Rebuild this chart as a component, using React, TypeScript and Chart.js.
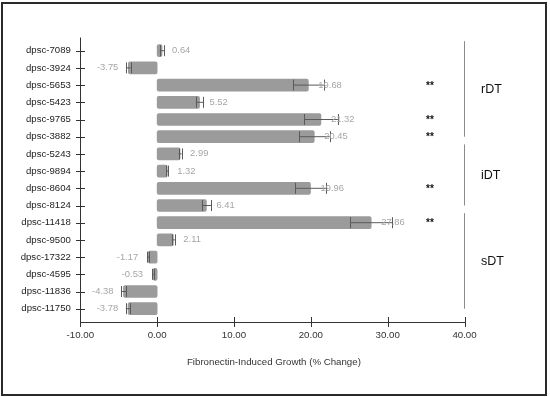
import React, { useEffect, useRef } from "react";
import { Chart, registerables } from "chart.js";

Chart.register(...registerables);

const samples = [
  "dpsc-7089", "dpsc-3924", "dpsc-5653", "dpsc-5423", "dpsc-9765", "dpsc-3882",
  "dpsc-5243", "dpsc-9894", "dpsc-8604", "dpsc-8124",
  "dpsc-11418", "dpsc-9500", "dpsc-17322", "dpsc-4595", "dpsc-11836", "dpsc-11750",
];
const growth = [0.64, -3.75, 19.68, 5.52, 21.32, 20.45, 2.99, 1.32, 19.96, 6.41, 27.86, 2.11, -1.17, -0.53, -4.38, -3.78];
const stdErr = [0.3, 0.3, 2.0, 0.5, 2.2, 2.0, 0.2, 0.15, 2.0, 0.6, 2.75, 0.2, 0.15, 0.1, 0.33, 0.3];
const significance = ["", "", "**", "", "**", "**", "", "", "**", "", "**", "", "", "", "", ""];
const groupNames = ["rDT", "iDT", "sDT"];
const groupFirst = ["dpsc-7089", "dpsc-5243", "dpsc-11418"];
const groupLast = ["dpsc-3882", "dpsc-8124", "dpsc-11750"];
const xTicks = [-10, 0, 10, 20, 30, 40];
const xTitle = "Fibronectin-Induced Growth (% Change)";

const FONT = "'Liberation Sans', Arial, sans-serif";

const overlayPlugin = {
  id: "overlay",
  afterDatasetsDraw(chart: any) {
    const ctx = chart.ctx;
    const xs = chart.scales.x;
    const ys = chart.scales.y;
    const area = chart.chartArea;
    ctx.save();

    // error bars
    ctx.strokeStyle = "#5a5a5a";
    ctx.lineWidth = 1;
    growth.forEach((v, i) => {
      const y = ys.getPixelForTick(i);
      const x1 = xs.getPixelForValue(v - stdErr[i]);
      const x2 = xs.getPixelForValue(v + stdErr[i]);
      ctx.beginPath();
      ctx.moveTo(x1, y);
      ctx.lineTo(x2, y);
      ctx.moveTo(Math.round(x1) + 0.5, y - 5.5);
      ctx.lineTo(Math.round(x1) + 0.5, y + 5.5);
      ctx.moveTo(Math.round(x2) + 0.5, y - 5.5);
      ctx.lineTo(Math.round(x2) + 0.5, y + 5.5);
      ctx.stroke();
    });

    // value labels
    ctx.font = `9.4px ${FONT}`;
    ctx.fillStyle = "#a6a6a6";
    ctx.textBaseline = "middle";
    growth.forEach((v, i) => {
      const y = ys.getPixelForTick(i);
      const x = xs.getPixelForValue(v);
      if (v >= 0) {
        ctx.textAlign = "left";
        ctx.fillText(v.toFixed(2), x + 10, y);
      } else {
        ctx.textAlign = "right";
        ctx.fillText(v.toFixed(2), x - 10, y);
      }
    });

    // significance stars
    ctx.font = `bold 10px ${FONT}`;
    ctx.fillStyle = "#111";
    ctx.textAlign = "center";
    significance.forEach((s, i) => {
      if (!s) return;
      ctx.fillText(s, 430, ys.getPixelForTick(i) + 1);
    });

    // axes lines and ticks
    ctx.strokeStyle = "#333";
    ctx.lineWidth = 1;
    const axX = Math.round(area.left) + 0.5;
    const axY = Math.round(area.bottom + 4.7) + 0.5;
    ctx.beginPath();
    ctx.moveTo(axX, 37.5);
    ctx.lineTo(axX, axY);
    ctx.moveTo(axX, axY);
    ctx.lineTo(Math.round(xs.getPixelForValue(40)) + 0.5, axY);
    samples.forEach((_, i) => {
      const y = Math.round(ys.getPixelForTick(i)) + 0.5;
      ctx.moveTo(axX - 4.5, y);
      ctx.lineTo(axX + 4.5, y);
    });
    xTicks.forEach((t) => {
      const x = Math.round(xs.getPixelForValue(t)) + 0.5;
      ctx.moveTo(x, axY - 5.5);
      ctx.lineTo(x, axY + 4.5);
    });
    ctx.stroke();

    // axis title
    ctx.font = `9.7px ${FONT}`;
    ctx.fillStyle = "#333";
    ctx.textAlign = "center";
    ctx.textBaseline = "middle";
    ctx.fillText(xTitle, (area.left + area.right) / 2 + 1.5, 362);

    // group brackets
    const gx = Math.round(xs.getPixelForValue(40)) - 0.5;
    groupNames.forEach((name, g) => {
      const top = ys.getPixelForValue(samples.indexOf(groupFirst[g])) - 9.5;
      const bottom = ys.getPixelForValue(samples.indexOf(groupLast[g]));
      ctx.strokeStyle = "#8a8a8a";
      ctx.beginPath();
      ctx.moveTo(gx, top);
      ctx.lineTo(gx, bottom);
      ctx.stroke();
      ctx.font = `12.5px ${FONT}`;
      ctx.fillStyle = "#111";
      ctx.textAlign = "left";
      ctx.textBaseline = "middle";
      ctx.fillText(name, 481, (top + bottom) / 2 + 1);
    });

    // outer frame
    ctx.strokeStyle = "#2a2a2a";
    ctx.lineWidth = 2;
    ctx.strokeRect(2, 3, 544, 392);
    ctx.restore();
  },
};

export default function App() {
  const ref = useRef<HTMLCanvasElement | null>(null);
  useEffect(() => {
    if (!ref.current) return;
    const chart = new Chart(ref.current, {
      type: "bar",
      data: {
        labels: samples,
        datasets: [
          {
            data: growth,
            backgroundColor: "#9b9b9b",
            borderWidth: 0,
            borderRadius: 2,
            borderSkipped: false,
            barThickness: 12,
          },
        ],
      },
      options: {
        indexAxis: "y",
        responsive: false,
        animation: false,
        devicePixelRatio: 1,
        layout: { padding: { top: 42.1, right: 85.5, left: 0, bottom: 0 } },
        plugins: { legend: { display: false }, tooltip: { enabled: false } },
        scales: {
          x: {
            type: "linear",
            min: -10,
            max: 40,
            grid: { display: false, drawTicks: false },
            border: { display: false },
            ticks: {
              stepSize: 10,
              padding: 12,
              color: "#333",
              font: { family: FONT, size: 9.7 },
              callback: (v: any) => Number(v).toFixed(2),
            },
            afterFit: (s: any) => {
              s.height = 397 - 317.3;
            },
          },
          y: {
            grid: { display: false, drawTicks: false },
            border: { display: false },
            ticks: {
              padding: 9.5,
              color: "#222",
              font: { family: FONT, size: 9.6 },
            },
            afterFit: (s: any) => {
              s.width = 80.3;
            },
          },
        },
      },
      plugins: [overlayPlugin],
    });
    return () => chart.destroy();
  }, []);
  return (
    <div style={{ position: "fixed", left: 0, top: 0, width: 550, height: 397, background: "#fff" }}>
      <canvas ref={ref} width={550} height={397} style={{ display: "block", width: 550, height: 397 }} />
    </div>
  );
}
